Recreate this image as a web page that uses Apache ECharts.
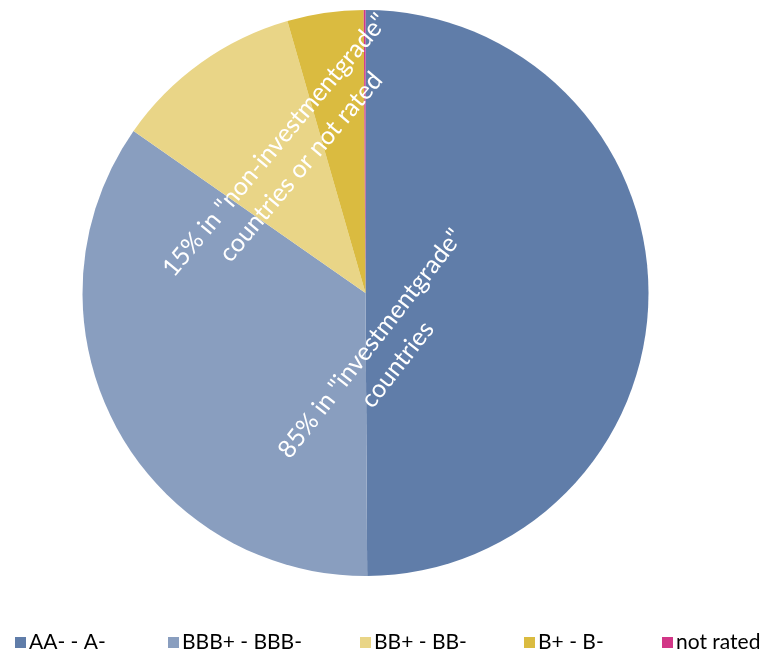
<!DOCTYPE html>
<html>
<head>
<meta charset="utf-8">
<script src="https://cdn.jsdelivr.net/npm/echarts@6/dist/echarts.min.js"></script>
<style>
  html, body { margin: 0; padding: 0; background: #fff; }
  #chart { width: 768px; height: 651px; }
</style>
</head>
<body>
<div id="chart"></div>
<script>
// rating buckets and their share (%)
const ratings = ['AA- - A-', 'BBB+ - BBB-', 'BB+ - BB-', 'B+ - B-', 'not rated'];
const shares = [49.9, 34.8, 10.84, 4.35, 0.1];
const colors = ['#607da9', '#899ebf', '#e9d587', '#dabb40', '#d23687'];
const legendLeft = [10, 163, 355, 519, 657];

const chart = echarts.init(document.getElementById('chart'));
const font = 'Lato, "Open Sans", sans-serif';

// one legend per item so the spacing matches
const legends = ratings.map((name, i) => ({
  data: [name],
  left: legendLeft[i],
  top: 627,
  itemWidth: 11,
  itemHeight: 11,
  icon: 'rect',
  selectedMode: false,
  textStyle: { fontFamily: font, fontSize: 21, color: '#000', padding: [0, 0, 0, -2] }
}));

chart.setOption({
  animation: false,
  color: colors,
  legend: legends,
  series: [
    {
      type: 'pie',
      center: [365.5, 293],
      radius: [0, 283],
      startAngle: 90,
      clockwise: true,
      label: { show: false },
      labelLine: { show: false },
      itemStyle: { borderWidth: 0 },
      emphasis: { disabled: true },
      data: ratings.map((name, i) => ({ name: name, value: shares[i] }))
    }
  ],
  graphic: [
    {
      type: 'text',
      z: 100,
      x: 384, y: 354,
      rotation: 52 * Math.PI / 180,
      style: {
        text: '85% in "investmentgrade"\ncountries',
        fill: '#fff',
        font: '25px ' + font,
        align: 'center',
        verticalAlign: 'middle',
        lineHeight: 34
      }
    },
    {
      type: 'text',
      z: 100,
      x: 288, y: 156,
      rotation: 50 * Math.PI / 180,
      style: {
        text: '15% in "non-investmentgrade"\ncountries or not rated',
        fill: '#fff',
        font: '25px ' + font,
        align: 'center',
        verticalAlign: 'middle',
        lineHeight: 34
      }
    }
  ]
});
</script>
</body>
</html>
